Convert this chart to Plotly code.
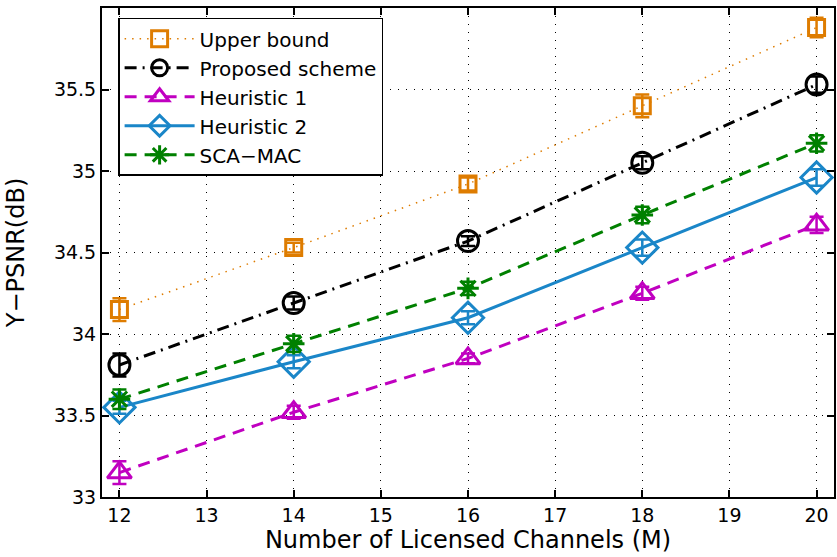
import plotly.graph_objects as go

channels = [12, 14, 16, 18, 20]
upper_bound = [34.15, 34.53, 34.92, 35.40, 35.88]
proposed = [33.81, 34.19, 34.57, 35.05, 35.53]
heuristic1 = [33.15, 33.52, 33.85, 34.25, 34.67]
heuristic2 = [33.55, 33.83, 34.10, 34.53, 34.96]
sca_mac = [33.60, 33.94, 34.28, 34.73, 35.17]

err_upper = [0.07, 0.03, 0.04, 0.07, 0.06]
err_prop = [0.07, 0.04, 0.03, 0.04, 0.05]
err_h1 = [0.07, 0.04, 0.03, 0.04, 0.05]
err_h2 = [0.04, 0.04, 0.04, 0.05, 0.05]
err_sca = [0.06, 0.05, 0.04, 0.05, 0.05]

series = [
    ("Upper bound", upper_bound, err_upper, "#DE7C00", "1.5px,6px", 1.5, "square-open", 16),
    ("Proposed scheme", proposed, err_prop, "#000000", "12px,6px,2px,6px", 3, "circle-open", 21),
    ("Heuristic 1", heuristic1, err_h1, "#C000C0", "12px,8px", 3, "triangle-up-open", 21),
    ("Heuristic 2", heuristic2, err_h2, "#1A86C8", "solid", 3, "diamond-open", 24),
    ("SCA\u2212MAC", sca_mac, err_sca, "#008000", "12px,8px", 3, "asterisk-open", 18),
]

fig = go.Figure()
for name, vals, err, color, dash, lw, sym, ms in series:
    fig.add_trace(go.Scatter(
        x=channels, y=vals, name=name, mode="lines+markers",
        line=dict(color=color, dash=dash, width=lw),
        marker=dict(symbol=sym, size=ms, color=color,
                    line=dict(color=color, width=3)),
        error_y=dict(type="data", array=err, visible=True,
                     color=color, thickness=2.5, width=7),
    ))

font_family = "DejaVu Sans, Liberation Sans, Arial, sans-serif"
axis_common = dict(
    showline=True, linecolor="black", linewidth=2, mirror="ticks",
    ticks="inside", ticklen=7, tickcolor="black", tickwidth=1.5,
    showgrid=True, gridcolor="black", griddash="1px,7px", gridwidth=1,
    zeroline=False, tickfont=dict(size=19, color="black", family=font_family),
)

fig.update_xaxes(range=[11.8, 20.2], tickmode="linear", tick0=12, dtick=1,
                 title=dict(text="Number of Licensed Channels (M)",
                            font=dict(size=24, color="black", family=font_family),
                            standoff=0),
                 **axis_common)
fig.update_yaxes(range=[33, 36], tickmode="linear", tick0=33, dtick=0.5,
                 title=dict(text="Y\u2212PSNR(dB)",
                            font=dict(size=24, color="black", family=font_family),
                            standoff=22),
                 **axis_common)

fig.update_layout(
    width=837, height=557,
    margin=dict(l=102, r=1, t=8, b=60),
    paper_bgcolor="white", plot_bgcolor="white",
    font=dict(family=font_family, color="black"),
    legend=dict(x=0.022, y=0.98, xanchor="left", yanchor="top",
                bgcolor="white", bordercolor="black", borderwidth=1.5,
                font=dict(size=20, color="black", family=font_family),
                itemwidth=70, tracegroupgap=0),
)

fig.write_html("out.html")
